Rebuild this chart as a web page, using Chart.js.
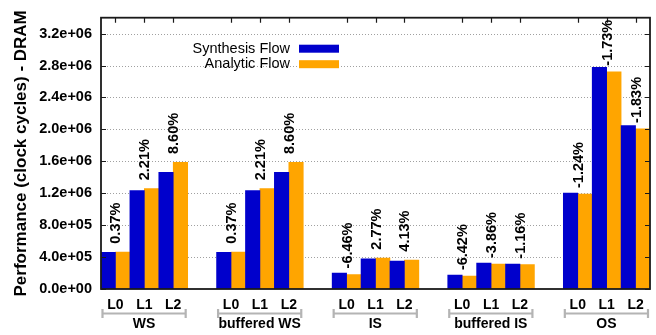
<!DOCTYPE html>
<html><head><meta charset="utf-8">
<script src="https://cdn.jsdelivr.net/npm/chart.js@4"></script>
<style>html,body{margin:0;padding:0;background:#fff;} #wrap{width:656px;height:335px;}</style>
</head><body><div id="wrap"><canvas id="c" width="656" height="335"></canvas></div>
<script>
// ---------- data ----------
const groups = ["WS", "buffered WS", "IS", "buffered IS", "OS"];
const levels = ["L0", "L1", "L2"];
const seriesNames = ["Synthesis Flow", "Analytic Flow"];
const synthesisFlow = [0.460e6, 1.232e6, 1.462e6, 0.460e6, 1.232e6, 1.462e6,
                       0.198e6, 0.379e6, 0.350e6, 0.173e6, 0.325e6, 0.313e6,
                       1.203e6, 2.778e6, 2.048e6];
const analyticFlow  = [0.462e6, 1.257e6, 1.586e6, 0.462e6, 1.257e6, 1.586e6,
                       0.182e6, 0.387e6, 0.362e6, 0.161e6, 0.313e6, 0.305e6,
                       1.190e6, 2.723e6, 2.006e6];
const diffLabels = ["0.37%", "2.21%", "8.60%", "0.37%", "2.21%", "8.60%",
                    "-6.46%", "2.77%", "4.13%", "-6.42%", "-3.86%", "-1.16%",
                    "-1.24%", "-1.73%", "-1.83%"];
const yTickValues = [0, 4e5, 8e5, 1.2e6, 1.6e6, 2.0e6, 2.4e6, 2.8e6, 3.2e6];
const yTickLabels = ["0.0e+00", "4.0e+05", "8.0e+05", "1.2e+06", "1.6e+06",
                     "2.0e+06", "2.4e+06", "2.8e+06", "3.2e+06"];
const yMax = 3.4e6;
const yTitle = "Performance (clock cycles) - DRAM";

// ---------- slots (with empty gap slots between groups) ----------
const slotLabels = [], slotIndex = [];
groups.forEach((g, gi) => {
  levels.forEach((l, li) => { slotLabels.push(l); slotIndex.push(gi * levels.length + li); });
  if (gi < groups.length - 1) { slotLabels.push(""); slotIndex.push(-1); }
});
const synData = slotIndex.map(k => k < 0 ? null : synthesisFlow[k]);
const anaData = slotIndex.map(k => k < 0 ? null : analyticFlow[k]);

const BLUE = "#0000cc", ORANGE = "#ffa500";
const FONT = "'Liberation Sans', Arial, Helvetica, sans-serif";
Chart.defaults.font.family = FONT;
Chart.defaults.color = "#000";

const decor = {
  id: "decor",
  beforeDatasetsDraw(chart) {
    const ctx = chart.ctx, ca = chart.chartArea, ys = chart.scales.y;
    ctx.save();
    ctx.strokeStyle = "#a0a0a0"; ctx.lineWidth = 1;
    ctx.setLineDash([1, 2]);
    ctx.beginPath();
    yTickValues.forEach(v => {
      if (v === 0) return;
      const y = Math.round(ys.getPixelForValue(v)) + 0.5;
      ctx.moveTo(ca.left + 6, y); ctx.lineTo(ca.right - 5, y);
    });
    ctx.stroke();
    ctx.restore();
  },
  afterDatasetsDraw(chart) {
    const ctx = chart.ctx, ca = chart.chartArea;
    const xs = chart.scales.x, ys = chart.scales.y;
    const cw = (ca.right - ca.left) / slotLabels.length;
    ctx.save();
    // frame
    ctx.strokeStyle = "#1a1a1a"; ctx.lineWidth = 1.8;
    ctx.strokeRect(ca.left, ca.top, ca.right - ca.left, ca.bottom - ca.top);
    // inward y ticks (left & right)
    ctx.lineWidth = 1.2;
    ctx.beginPath();
    yTickValues.forEach(v => {
      const y = Math.round(ys.getPixelForValue(v)) + 0.5;
      ctx.moveTo(ca.left, y); ctx.lineTo(ca.left + 5, y);
      ctx.moveTo(ca.right, y); ctx.lineTo(ca.right - 5, y);
    });
    // top x ticks at cluster centres
    slotIndex.forEach((k, s) => {
      if (k < 0) return;
      const x = Math.round(xs.getPixelForValue(s)) + 0.5;
      ctx.moveTo(x, ca.top); ctx.lineTo(x, ca.top + 5);
    });
    ctx.stroke();
    // percentage labels
    ctx.fillStyle = "#000";
    ctx.font = "bold 14.5px " + FONT;
    ctx.textAlign = "center"; ctx.textBaseline = "middle";
    slotIndex.forEach((k, s) => {
      if (k < 0) return;
      const x = xs.getPixelForValue(s) + 1;
      const y = ys.getPixelForValue(analyticFlow[k]) - 29;
      ctx.save(); ctx.translate(x, y); ctx.rotate(-Math.PI / 2);
      ctx.fillText(diffLabels[k], 0, 0); ctx.restore();
    });
    // group brackets & names
    groups.forEach((g, gi) => {
      const s0 = gi * (levels.length + 1), s2 = s0 + levels.length - 1;
      const xl = xs.getPixelForValue(s0) - cw / 2 + 1.5;
      const xr = xs.getPixelForValue(s2) + cw / 2 - 2;
      const yb = ca.bottom + 24.5;
      ctx.strokeStyle = "#b4b4b4"; ctx.lineWidth = 2.2;
      ctx.beginPath();
      ctx.moveTo(xl, yb); ctx.lineTo(xr, yb);
      ctx.moveTo(xl, yb - 4.5); ctx.lineTo(xl, yb + 4.5);
      ctx.moveTo(xr, yb - 4.5); ctx.lineTo(xr, yb + 4.5);
      ctx.stroke();
      ctx.fillStyle = "#000";
      ctx.font = "bold 14px " + FONT;
      ctx.textAlign = "center"; ctx.textBaseline = "middle";
      ctx.fillText(g, (xl + xr) / 2, ca.bottom + 35.5);
    });
    // legend
    const colors = [BLUE, ORANGE];
    ctx.font = "14.5px " + FONT;
    ctx.textAlign = "right"; ctx.textBaseline = "middle";
    seriesNames.forEach((n, i) => {
      const cy = ca.top + 31 + i * 15.5;
      ctx.fillStyle = "#000";
      ctx.fillText(n, ca.left + 189, cy);
      ctx.fillStyle = colors[i];
      ctx.fillRect(ca.left + 198, cy - 4, 40, 8);
    });
    ctx.restore();
  }
};

new Chart(document.getElementById("c"), {
  type: "bar",
  data: {
    labels: slotLabels,
    datasets: [
      { label: seriesNames[0], data: synData, backgroundColor: BLUE, borderWidth: 0 },
      { label: seriesNames[1], data: anaData, backgroundColor: ORANGE, borderWidth: 0 }
    ]
  },
  options: {
    responsive: false,
    animation: false,
    devicePixelRatio: 1,
    layout: { padding: { top: 14, right: 6, left: 0, bottom: 0 } },
    datasets: { bar: { categoryPercentage: 1, barPercentage: 1 } },
    plugins: { legend: { display: false }, tooltip: { enabled: false } },
    scales: {
      x: {
        offset: true,
        grid: { display: false, drawTicks: false },
        border: { display: false },
        ticks: { autoSkip: false, maxRotation: 0, padding: 8,
                 font: { size: 14, weight: "bold" }, color: "#000" },
        afterFit(s) { s.height = 46; }
      },
      y: {
        min: 0, max: yMax,
        afterBuildTicks(s) { s.ticks = yTickValues.map(v => ({ value: v })); },
        grid: { display: false, drawTicks: false },
        border: { display: false },
        ticks: {
          padding: 9, font: { size: 14.5, weight: "bold" }, color: "#000",
          callback(v) { const i = yTickValues.indexOf(v); return i >= 0 ? yTickLabels[i] : ""; }
        },
        title: { display: true, text: yTitle, font: { size: 17, weight: "bold" },
                 color: "#000", padding: { top: 11, bottom: 0 } },
        afterFit(s) { s.width = 101; }
      }
    }
  },
  plugins: [decor]
});
</script></body></html>
